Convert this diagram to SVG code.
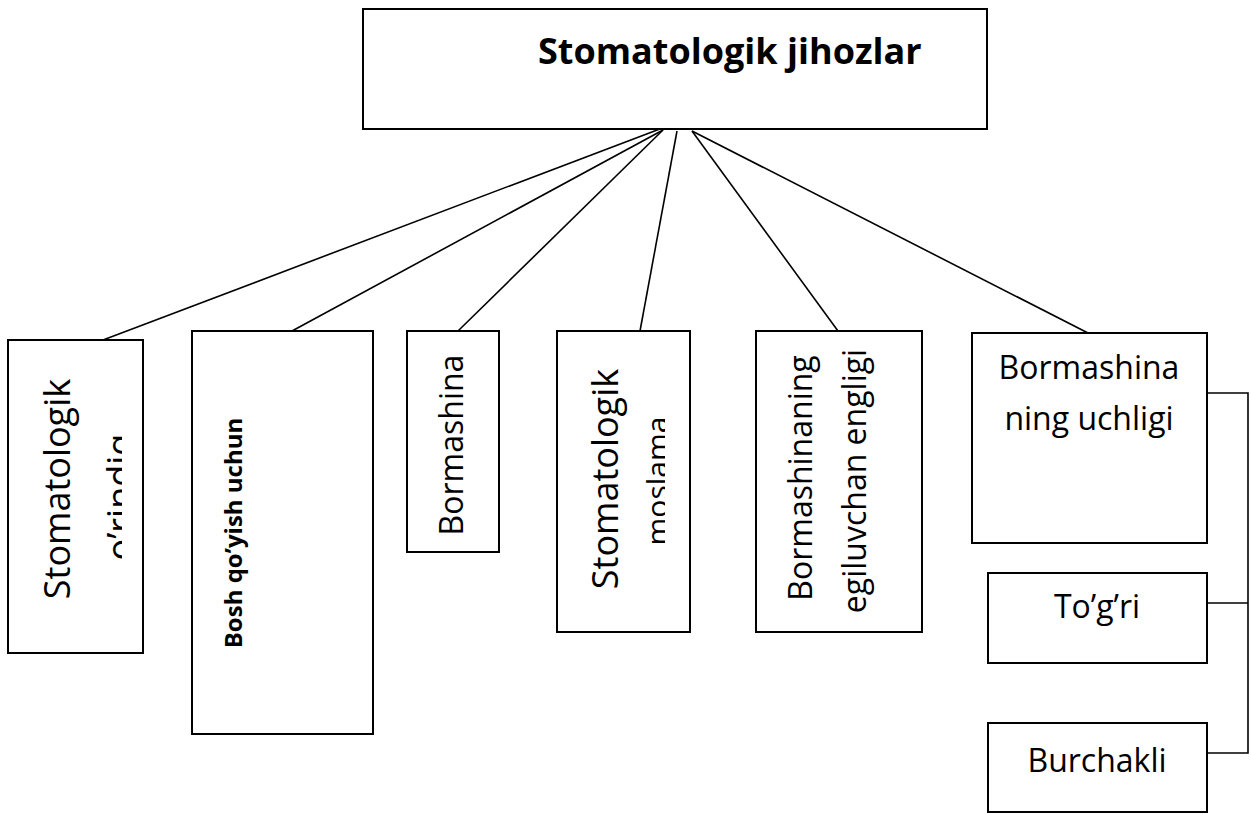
<svg xmlns="http://www.w3.org/2000/svg" width="1251" height="814" viewBox="0 0 1251 814">
<style>
.box{fill:#fff;stroke:#000;stroke-width:2}
.ln{stroke:#000;stroke-width:1.6;fill:none}
.t{font-family:"Open Sans","Noto Sans",sans-serif;fill:#000}
.b{font-weight:bold}
</style>
<defs>
<clipPath id="c1"><rect x="0" y="330" width="122" height="330"/></clipPath>
<clipPath id="c2"><rect x="540" y="330" width="125" height="310"/></clipPath>
</defs>
<rect width="1251" height="814" fill="#fff"/>
<g id="connectors">
<line class="ln" x1="673" y1="124" x2="103" y2="340"/>
<line class="ln" x1="663" y1="130" x2="292" y2="331"/>
<line class="ln" x1="663" y1="130" x2="458" y2="331"/>
<line class="ln" x1="677" y1="131" x2="640" y2="331"/>
<line class="ln" x1="692" y1="131" x2="838" y2="331"/>
<line class="ln" x1="692" y1="131" x2="1088" y2="333"/>
<polyline class="ln" points="1207,393 1248,393 1248,753 1207,753"/>
<line class="ln" x1="1207" y1="603" x2="1248" y2="603"/>
</g>
<g id="root">
<rect class="box" x="363" y="9" width="624" height="120"/>
<text class="t b" x="538" y="64" font-size="36">Stomatologik jihozlar</text>
</g>
<g id="n1">
<rect class="box" x="8" y="340" width="135" height="313"/>
<text class="t" font-size="36" text-anchor="middle" transform="translate(70,489) rotate(-90)">Stomatologik</text>
<g clip-path="url(#c1)"><text class="t" font-size="36" text-anchor="middle" transform="translate(133,497) rotate(-90)">o’rindiq</text></g>
</g>
<g id="n2">
<rect class="box" x="192" y="331" width="181" height="403"/>
<text class="t b" font-size="24" text-anchor="middle" transform="translate(242,533) rotate(-90)">Bosh qo’yish uchun</text>
</g>
<g id="n3">
<rect class="box" x="407" y="331" width="92" height="221"/>
<text class="t" font-size="32" text-anchor="middle" transform="translate(463,445) rotate(-90)">Bormashina</text>
</g>
<g id="n4">
<rect class="box" x="557" y="331" width="133" height="301"/>
<text class="t" font-size="36" text-anchor="middle" transform="translate(618,479) rotate(-90)">Stomatologik</text>
<g clip-path="url(#c2)"><text class="t" font-size="30" text-anchor="middle" transform="translate(668,481) rotate(-90)">moslama</text></g>
</g>
<g id="n5">
<rect class="box" x="756" y="331" width="166" height="301"/>
<text class="t" font-size="32" text-anchor="middle" transform="translate(812,478) rotate(-90)">Bormashinaning</text>
<text class="t" font-size="32" text-anchor="middle" transform="translate(866,481) rotate(-90)">egiluvchan engligi</text>
</g>
<g id="n6">
<rect class="box" x="972" y="333" width="235" height="210"/>
<text class="t" font-size="32" text-anchor="middle" x="1089" y="379">Bormashina</text>
<text class="t" font-size="32" text-anchor="middle" x="1089" y="430">ning uchligi</text>
</g>
<g id="n7">
<rect class="box" x="988" y="573" width="219" height="90"/>
<text class="t" font-size="32" text-anchor="middle" x="1097" y="618">To’g’ri</text>
</g>
<g id="n8">
<rect class="box" x="988" y="723" width="219" height="89"/>
<text class="t" font-size="32" text-anchor="middle" x="1097" y="772">Burchakli</text>
</g>
</svg>
